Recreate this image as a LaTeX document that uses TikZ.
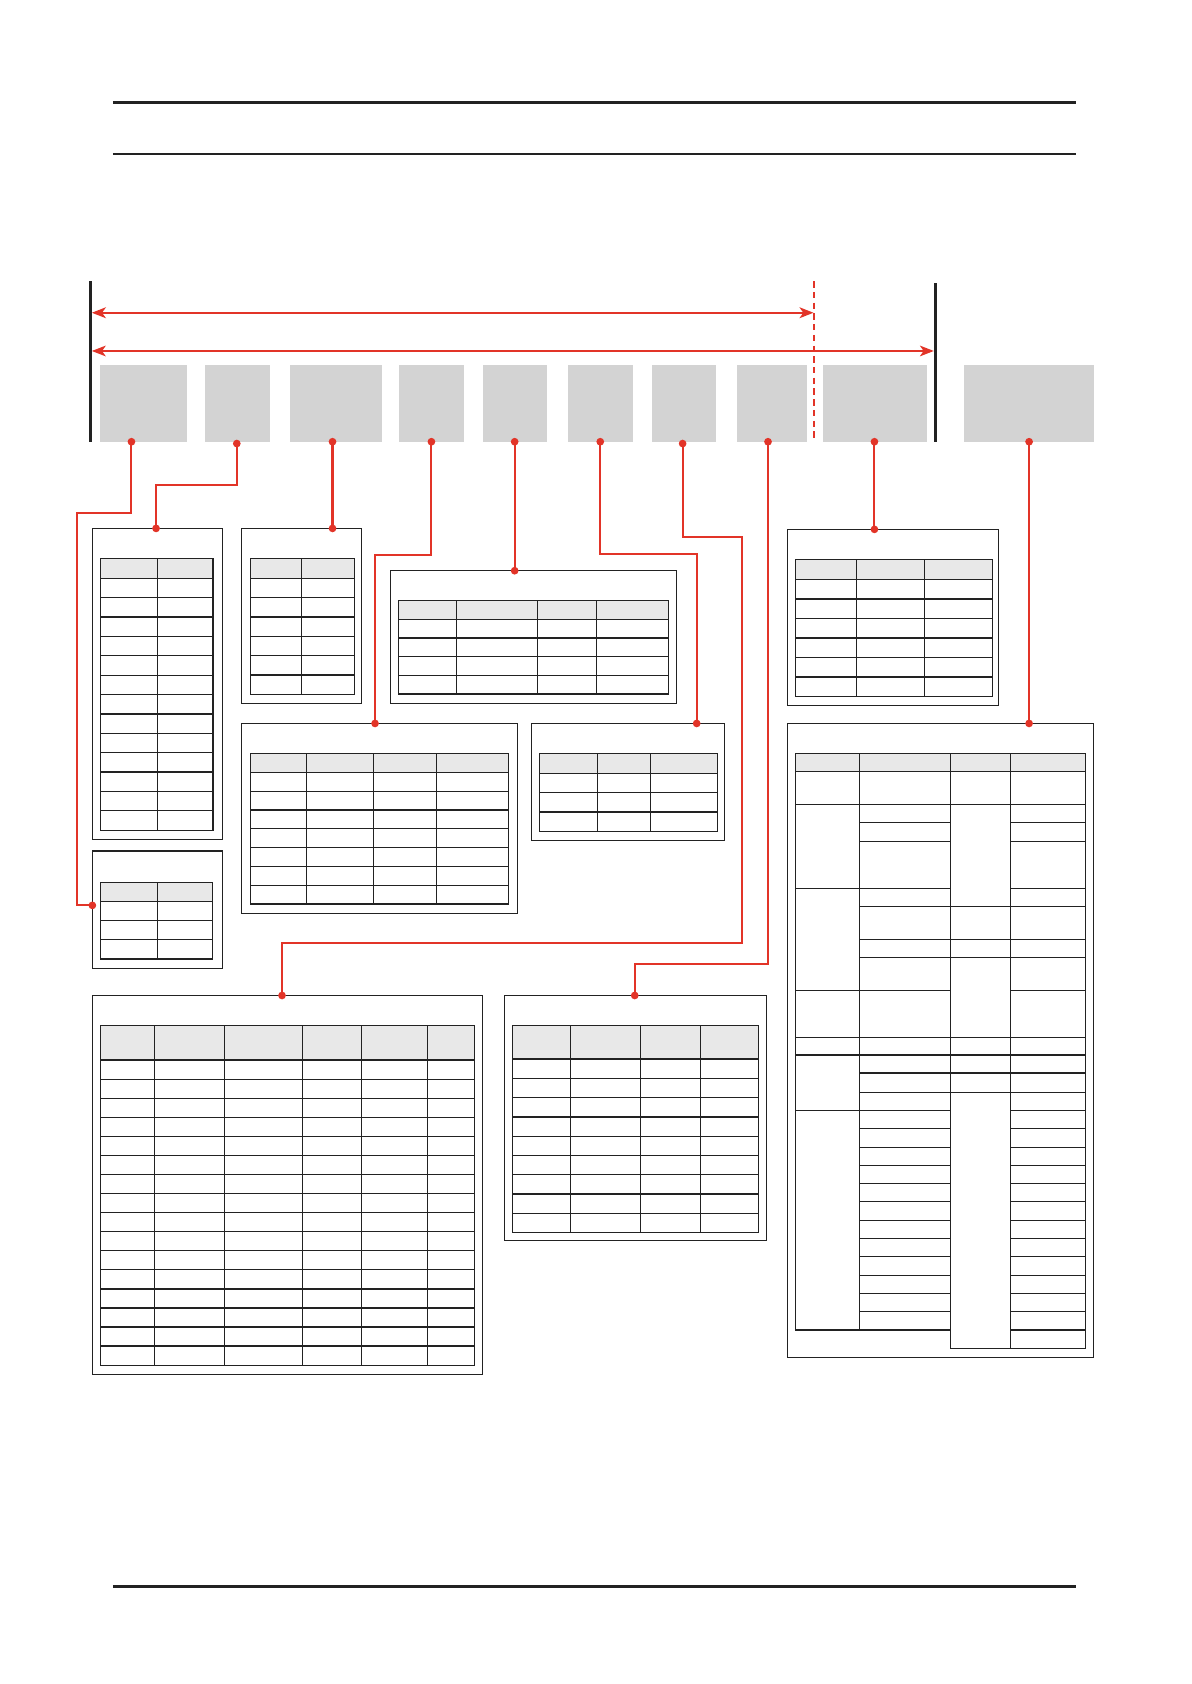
\documentclass[tikz,border=0pt]{standalone}
\usetikzlibrary{arrows.meta}
\definecolor{redc}{RGB}{226,52,40}
\definecolor{inkc}{RGB}{34,34,34}
\definecolor{hdrc}{RGB}{232,232,232}
\definecolor{grayc}{RGB}{211,211,211}
\tikzset{
 frame/.style={draw=inkc, line width=1.2pt, inner sep=0pt, outer sep=0pt, anchor=north west},
 gbox/.style={fill=grayc, inner sep=0pt, outer sep=0pt, anchor=north west},
 conn/.style={draw=redc, line width=1.9pt},
 tline/.style={draw=inkc, line width=1.2pt},
 dotc/.style={fill=redc},
 rule/.style={draw=inkc, line width=2.8pt},
 dimarrow/.style={draw=redc, <->, >={Stealth[length=13pt,width=10pt,inset=3.5pt]}},
}
\newcommand\mytable[7]{%
 \fill[hdrc] (#1,#3) rectangle (#2,#4);
 \foreach \ri in {1,...,#6} \draw[tline] (#1,{#4+\ri*(#5-#4)/#6}) -- (#2,{#4+\ri*(#5-#4)/#6});
 \draw[tline] (#1,#4) -- (#2,#4);
 \foreach \cx in {#7} \draw[tline] (\cx,#3) -- (\cx,#5);
 \draw[tline] (#1,#3) rectangle (#2,#5);
}
\begin{document}
\begin{tikzpicture}[x=1pt,y=-1pt]
\useasboundingbox (0,0) rectangle (1109,1568);
% page rules
\draw[rule] (105,95) -- (1002,95);
\draw[inkc, line width=2pt] (105,143) -- (1002,143);
\draw[rule] (105,1477) -- (1002,1477);
% black boundaries and dashed line
\draw[inkc, line width=2.6pt] (84.2,261.7) -- (84.2,411.3);
\draw[inkc, line width=2.6pt] (870.7,263.8) -- (870.7,411.3);
\draw[redc, line width=1.8pt, dash pattern=on 6pt off 4pt] (757.9,261.7) -- (757.9,411.3);
% dimension arrows
\draw[dimarrow, line width=2.3pt] (85.5,291.2) -- (757.5,291.2);
\draw[dimarrow, line width=1.4pt] (85.5,326.8) -- (869.5,326.8);
% gray blocks
\node[gbox, minimum width=80.8pt, minimum height=71.4pt] (g1) at (93.1,339.9) {};
\node[gbox, minimum width=60.9pt, minimum height=71.4pt] (g2) at (190.5,339.9) {};
\node[gbox, minimum width=86.1pt, minimum height=71.4pt] (g3) at (269.7,339.9) {};
\node[gbox, minimum width=60.5pt, minimum height=71.4pt] (g4) at (371.5,339.9) {};
\node[gbox, minimum width=59.8pt, minimum height=71.4pt] (g5) at (449.7,339.9) {};
\node[gbox, minimum width=60.7pt, minimum height=71.4pt] (g6) at (528.6,339.9) {};
\node[gbox, minimum width=59.5pt, minimum height=71.4pt] (g7) at (607.3,339.9) {};
\node[gbox, minimum width=64.9pt, minimum height=71.4pt] (g8) at (686.4,339.9) {};
\node[gbox, minimum width=97.4pt, minimum height=71.4pt] (g9) at (765.9,339.9) {};
\node[gbox, minimum width=121.3pt, minimum height=71.4pt] (g10) at (897.3,339.9) {};
% frames
\node[frame, minimum width=121pt, minimum height=289.5pt] (A) at (86,492) {};
\node[frame, minimum width=112.1pt, minimum height=163pt] (B) at (224.7,492) {};
\node[frame, minimum width=121pt, minimum height=109.2pt] (E) at (86,792.5) {};
\node[frame, minimum width=266.3pt, minimum height=123.6pt] (C) at (363.5,531.4) {};
\node[frame, minimum width=257pt, minimum height=176.9pt] (D) at (224.7,673.6) {};
\node[frame, minimum width=179.7pt, minimum height=108.9pt] (F) at (494.8,673.6) {};
\node[frame, minimum width=196.4pt, minimum height=163.9pt] (H) at (733.2,492.9) {};
\node[frame, minimum width=284.9pt, minimum height=590.3pt] (I) at (733.2,673.6) {};
\node[frame, minimum width=363.5pt, minimum height=352.9pt] (G) at (86,926.9) {};
\node[frame, minimum width=244pt, minimum height=228.1pt] (J) at (469.6,926.9) {};
% tables
\mytable{93.4}{198.4}{520}{538.5}{773}{13}{146.5}
\mytable{233}{330.3}{520}{538.5}{646.5}{6}{280.6}
\mytable{93.4}{197.8}{821.6}{839.3}{893}{3}{146.5}
\mytable{371}{622.4}{559}{576.7}{646.3}{4}{425,500.4,555.3}
\mytable{233}{473.4}{701.5}{719.2}{841.8}{7}{285.3,347.6,406.3}
\mytable{502.2}{668}{701.5}{720.1}{774.1}{3}{556.2,605.6}
\mytable{740.6}{924}{520.8}{539.5}{648.4}{6}{797.4,860.7}
\mytable{93.4}{441.7}{954.8}{987.1}{1271.1}{16}{143.7,208.9,281.5,336.5,397.9}
\mytable{477.1}{706.1}{954.8}{986.1}{1147.6}{9}{531.1,596.2,652.1}
% irregular table in I
\fill[hdrc] (740.6,701.5) rectangle (1010.6,718.3);
\draw[tline] (740.6,701.5) -- (740.6,1238.5);
\draw[tline] (800.2,701.5) -- (800.2,1238.5);
\draw[tline] (884.9,701.5) -- (884.9,1255.6);
\draw[tline] (940.8,701.5) -- (940.8,1255.6);
\draw[tline] (1010.6,701.5) -- (1010.6,1255.6);
\foreach \yy in {701.5,718.3,749,966,982.4} \draw[tline] (740.6,\yy) -- (1010.6,\yy);
\foreach \yy in {827.2,922.2,1033.9,1238.5} \draw[tline] (740.6,\yy) -- (800.2,\yy);
\foreach \yy in {765.8,783.4,827.2,844,874.7,891.5,922.2,999.2,1017.2,1033.9,1050.7,1068.4,1085.1,1101.9,1118.7,1136.4,1153.1,1169.9,1187.5,1204.3,1221.1,1238.5} {
  \draw[tline] (800.2,\yy) -- (884.9,\yy);
  \draw[tline] (940.8,\yy) -- (1010.6,\yy);
}
\draw[tline] (940.8,1255.6) -- (1010.6,1255.6);
\foreach \yy in {844,874.7,891.5,999.2,1017.2,1255.6} \draw[tline] (884.9,\yy) -- (940.8,\yy);
% connector end points
\coordinate (s1) at (122.4,411.3);  \coordinate (t1) at (86,843);
\coordinate (s2) at (220.5,413);    \coordinate (t2) at (145.3,492);
\coordinate (s3) at (309.6,411.3);  \coordinate (t3) at (309.6,492);
\coordinate (s4) at (401.7,411.3);  \coordinate (t4) at (349.2,673.6);
\coordinate (s5) at (479.2,411.3);  \coordinate (t5) at (479.2,531.4);
\coordinate (s6) at (558.9,411.3);  \coordinate (t6) at (648.7,673.6);
\coordinate (s7) at (635.6,413);    \coordinate (t7) at (262.6,926.9);
\coordinate (s8) at (715.1,411.3);  \coordinate (t8) at (591,926.9);
\coordinate (s9) at (814.2,411.3);  \coordinate (t9) at (814.2,492.9);
\coordinate (s10) at (958.2,411.3); \coordinate (t10) at (958.2,673.6);
% connectors
\draw[conn] (s1) |- (72,477.4) |- (t1);
\draw[conn] (s2) -- (220.5,451.6) -| (t2);
\draw[conn] (s3) -- (t3);
\draw[conn] (s4) -- (401.7,516.8) -| (t4);
\draw[conn] (s5) -- (t5);
\draw[conn] (s6) -- (558.9,515.6) -| (t6);
\draw[conn] (s7) -- (635.6,500.3) -| (690.6,878.4) -| (t7);
\draw[conn] (s8) |- (591,898) -- (t8);
\draw[conn] (s9) -- (t9);
\draw[conn] (s10) -- (t10);
\foreach \p in {s1,t1,s2,t2,s3,t3,s4,t4,s5,t5,s6,t6,s7,t7,s8,t8,s9,t9,s10,t10}
  \fill[dotc] (\p) circle[radius=3.6pt];
\end{tikzpicture}
\end{document}
